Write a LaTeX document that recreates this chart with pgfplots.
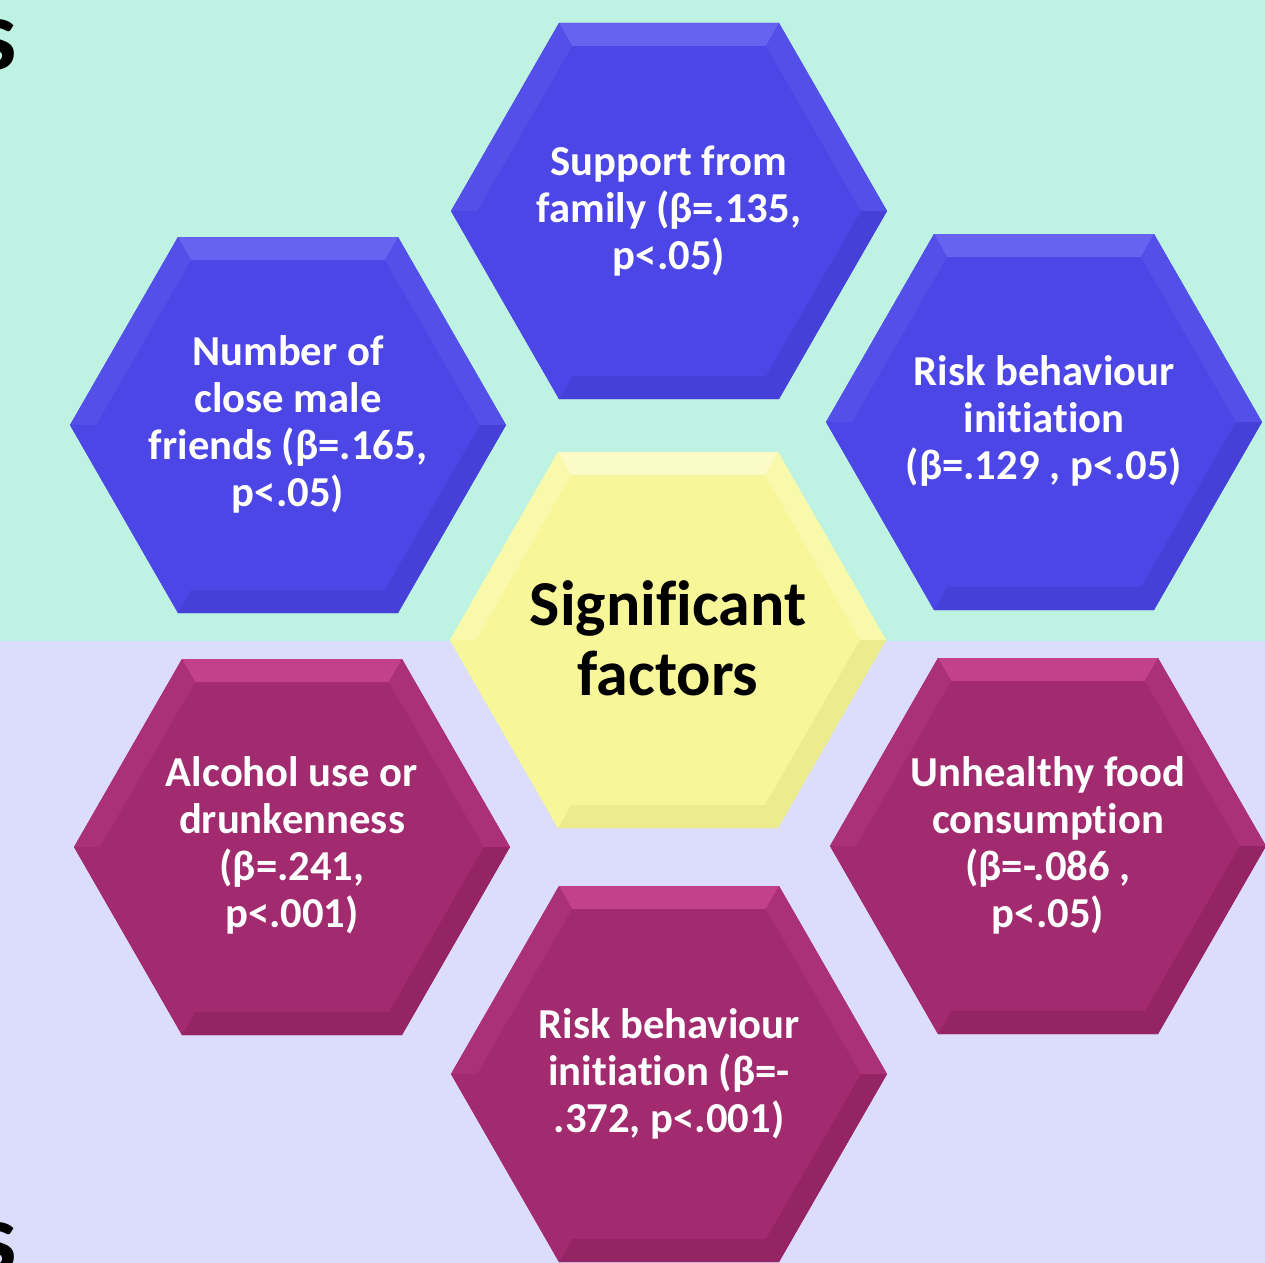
\documentclass[border=0pt]{standalone}
\usepackage{pgfplots}
\pgfplotsset{compat=1.18}
\usepackage{fontspec}
\setmainfont{Carlito}[Ligatures=NoCommon]
\definecolor{bgTop}{HTML}{BEF3E4}
\definecolor{bgBot}{HTML}{DCDCFC}
\definecolor{blueBase}{HTML}{4D46E6}
\definecolor{blueLight}{HTML}{6762EF}
\definecolor{blueMid}{HTML}{554FE9}
\definecolor{blueDark}{HTML}{4640D8}
\definecolor{magBase}{HTML}{A22A6E}
\definecolor{magLight}{HTML}{C2418A}
\definecolor{magMid}{HTML}{AA3177}
\definecolor{magDark}{HTML}{952465}
\definecolor{yelBase}{HTML}{F7F799}
\definecolor{yelLight}{HTML}{FBFBC8}
\definecolor{yelMid}{HTML}{F9F9AC}
\definecolor{yelDark}{HTML}{ECEC8E}
% hexagon: #1 cx, #2 cy, #3 colour prefix
\newcommand{\hexagon}[3]{%
  \pgfmathsetmacro\xa{#1-110}\pgfmathsetmacro\xb{#1+110}%
  \pgfmathsetmacro\xc{#1+218}\pgfmathsetmacro\xf{#1-218}%
  \pgfmathsetmacro\yt{#2-188}\pgfmathsetmacro\yb{#2+188}%
  \pgfmathsetmacro\xai{#1-97}\pgfmathsetmacro\xbi{#1+97}%
  \pgfmathsetmacro\xci{#1+192}\pgfmathsetmacro\xfi{#1-192}%
  \pgfmathsetmacro\yti{#2-165}\pgfmathsetmacro\ybi{#2+165}%
  \edef\doit{%
    \noexpand\addplot[fill=#3Base,draw=none] coordinates {(\xa,\yt)(\xb,\yt)(\xc,#2)(\xb,\yb)(\xa,\yb)(\xf,#2)} -- cycle;
    \noexpand\addplot[fill=#3Light,draw=none] coordinates {(\xa,\yt)(\xb,\yt)(\xbi,\yti)(\xai,\yti)} -- cycle;
    \noexpand\addplot[fill=#3Mid,draw=none] coordinates {(\xb,\yt)(\xc,#2)(\xci,#2)(\xbi,\yti)} -- cycle;
    \noexpand\addplot[fill=#3Mid,draw=none] coordinates {(\xf,#2)(\xa,\yt)(\xai,\yti)(\xfi,#2)} -- cycle;
    \noexpand\addplot[fill=#3Dark,draw=none] coordinates {(\xc,#2)(\xb,\yb)(\xbi,\ybi)(\xci,#2)} -- cycle;
    \noexpand\addplot[fill=#3Dark,draw=none] coordinates {(\xb,\yb)(\xa,\yb)(\xai,\ybi)(\xbi,\ybi)} -- cycle;
    \noexpand\addplot[fill=#3Base,draw=none] coordinates {(\xa,\yb)(\xf,#2)(\xfi,#2)(\xai,\ybi)} -- cycle;
  }\doit}
\begin{document}
\begin{tikzpicture}
\begin{axis}[scale only axis, width=948.75pt, height=947.25pt,
  xmin=0, xmax=1265, ymin=0, ymax=1263, y dir=reverse,
  hide axis, clip=true]
\addplot[fill=bgTop,draw=none] coordinates {(0,0)(1265,0)(1265,641)(0,641)} -- cycle;
\addplot[fill=bgBot,draw=none] coordinates {(0,641)(1265,641)(1265,1263)(0,1263)} -- cycle;
\hexagon{669}{211}{blue}
\hexagon{288}{425}{blue}
\hexagon{1044}{422}{blue}
\hexagon{292}{847}{mag}
\hexagon{1048}{846}{mag}
\hexagon{669}{1074}{mag}
\hexagon{668}{640}{yel}
\tikzset{lbl/.style={align=center, text=white, font=\fontsize{32}{35.2}\selectfont\bfseries}}
\node[lbl] at (axis cs:669,211) {Support from\\family (β=.135,\\p<.05)};
\node[lbl] at (axis cs:288,424) {Number of\\close male\\friends (β=.165,\\p<.05)};
\node[lbl] at (axis cs:1044,421) {Risk behaviour\\initiation\\(β=.129 , p<.05)};
\node[lbl] at (axis cs:292,845) {Alcohol use or\\drunkenness\\(β=.241,\\p<.001)};
\node[lbl] at (axis cs:1048,845) {Unhealthy food\\consumption\\(β=-.086 ,\\p<.05)};
\node[lbl] at (axis cs:669,1074) {Risk behaviour\\initiation (β=-\\.372, p<.001)};
\node[align=center, text=black, font=\fontsize{48}{52.5}\selectfont\bfseries] at (axis cs:668,638) {Significant\\factors};
\node[anchor=base east, text=black, font=\fontsize{76}{80}\selectfont\bfseries] at (axis cs:22,70) {s};
\node[anchor=base east, text=black, font=\fontsize{76}{80}\selectfont\bfseries] at (axis cs:22,1272) {s};
\end{axis}
\pgfresetboundingbox
\path[use as bounding box] (current axis.south west) rectangle (current axis.north east);
\end{tikzpicture}
\end{document}
